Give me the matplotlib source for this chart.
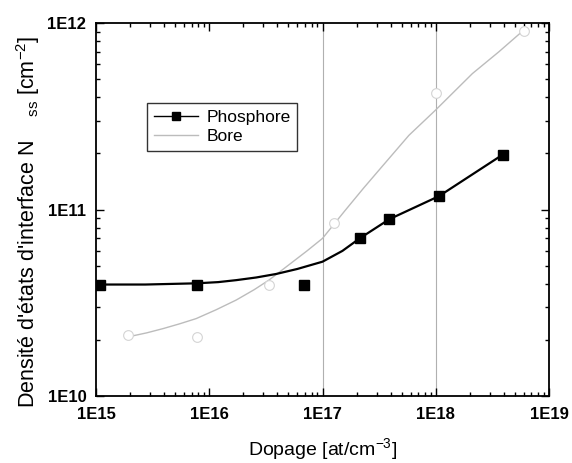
import matplotlib
matplotlib.use("Agg")
import matplotlib.pyplot as plt
from matplotlib.ticker import LogLocator, NullFormatter, FixedLocator, FixedFormatter

plt.rcParams['font.family'] = ['Liberation Sans', 'DejaVu Sans']
plt.rcParams['mathtext.fontset'] = 'custom'
plt.rcParams['mathtext.rm'] = 'Liberation Sans'

# Measured points
phos_x = [1.08e15, 7.8e15, 6.84e16, 2.13e17, 3.89e17, 1.07e18, 3.91e18]
phos_y = [3.96e10, 3.96e10, 3.96e10, 7.0e10, 8.87e10, 1.18e11, 1.97e11]
bore_x = [1.9e15, 7.8e15, 3.4e16, 1.26e17, 1.0e18, 6.0e18]
bore_y = [2.12e10, 2.08e10, 3.94e10, 8.45e10, 4.2e11, 9.1e11]

# Fit curves
phos_fit_x = [1.08e15, 2.72e15, 7.76e15, 1.2e16, 1.73e16, 2.6e16, 3.89e16, 6.0e16,
              1.0e17, 1.5e17, 2.13e17, 3.89e17, 1.07e18, 3.91e18]
phos_fit_y = [3.96e10, 3.96e10, 4.02e10, 4.08e10, 4.18e10, 4.32e10, 4.51e10, 4.8e10,
              5.25e10, 6.0e10, 7.0e10, 8.87e10, 1.18e11, 1.97e11]
bore_fit_x = [1.95e15, 2.8e15, 3.93e15, 5.5e15, 7.66e15, 1.15e16, 1.73e16, 2.5e16, 3.36e16,
              5.24e16, 7.3e16, 1.0e17, 1.59e17, 2.3e17, 3.33e17, 5.8e17, 9.9e17, 2.11e18, 3.6e18, 5.96e18]
bore_fit_y = [2.08e10, 2.18e10, 2.3e10, 2.44e10, 2.6e10, 2.9e10, 3.27e10, 3.72e10, 4.18e10,
              5.14e10, 6.0e10, 7.0e10, 9.91e10, 1.3e11, 1.69e11, 2.5e11, 3.4e11, 5.36e11, 7.0e11, 9.14e11]

xticks = [1e15, 1e16, 1e17, 1e18, 1e19]
xtick_labels = ['1E15', '1E16', '1E17', '1E18', '1E19']
yticks = [1e10, 1e11, 1e12]
ytick_labels = ['1E10', '1E11', '1E12']
grid_x = [1e17, 1e18]

fig = plt.figure(figsize=(5.72, 4.63), dpi=100)
ax = fig.add_axes([96/572, 1 - 396/463, 453/572, 373/463])
ax.set_xscale('log')
ax.set_yscale('log')
ax.set_xlim(1e15, 1e19)
ax.set_ylim(1e10, 1e12)

for gx in grid_x:
    ax.axvline(gx, color='#b0b0b0', lw=0.8, zorder=0)

gray = '#bcbcbc'
ax.plot(bore_fit_x, bore_fit_y, color=gray, lw=1.0, zorder=2)
ax.plot(bore_x, bore_y, 'o', mfc='white', mec='#d4d4d4', ms=7, mew=0.8, zorder=2)
ax.plot(phos_fit_x, phos_fit_y, color='black', lw=1.6, zorder=3)
ax.plot(phos_x, phos_y, 's', color='black', ms=7.5, zorder=4)

h1, = ax.plot([], [], '-s', color='black', lw=1.0, ms=6)
h2, = ax.plot([], [], '-', color=gray, lw=1.0)
leg = ax.legend([h1, h2], ['Phosphore', 'Bore'], loc='upper left',
                bbox_to_anchor=(0.113, 0.786), fontsize=12.5, frameon=True,
                fancybox=False, edgecolor='black', handlelength=2.5,
                borderpad=0.4, labelspacing=0.25, handletextpad=0.5,
                borderaxespad=0)
leg.get_frame().set_linewidth(1.0)

ax.xaxis.set_major_locator(FixedLocator(xticks))
ax.xaxis.set_major_formatter(FixedFormatter(xtick_labels))
ax.yaxis.set_major_locator(FixedLocator(yticks))
ax.yaxis.set_major_formatter(FixedFormatter(ytick_labels))
ax.xaxis.set_minor_locator(LogLocator(base=10, subs=range(2, 10), numticks=20))
ax.yaxis.set_minor_locator(LogLocator(base=10, subs=range(2, 10), numticks=20))
ax.xaxis.set_minor_formatter(NullFormatter())
ax.yaxis.set_minor_formatter(NullFormatter())
ax.tick_params(which='both', direction='in', top=True, right=True, width=1.0)
ax.tick_params(which='major', length=6, labelsize=12, pad=8)
ax.tick_params(axis='y', which='major', pad=7)
ax.tick_params(which='minor', length=3)
for lab in ax.get_xticklabels() + ax.get_yticklabels():
    lab.set_fontweight('bold')
for s in ax.spines.values():
    s.set_linewidth(1.3)

ax.set_xlabel('Dopage [at/cm$^{\\mathregular{-3}}$]', fontsize=14)
ax.xaxis.set_label_coords(0.5, -0.108)
ax.set_ylabel("Densité d'états d'interface N    $_{\\mathregular{ss}}$ [cm$^{\\mathregular{-2}}$]",
              fontsize=15.5)
ax.yaxis.set_label_coords(-0.12, 0.468)

fig.savefig('out.png', dpi=100)
